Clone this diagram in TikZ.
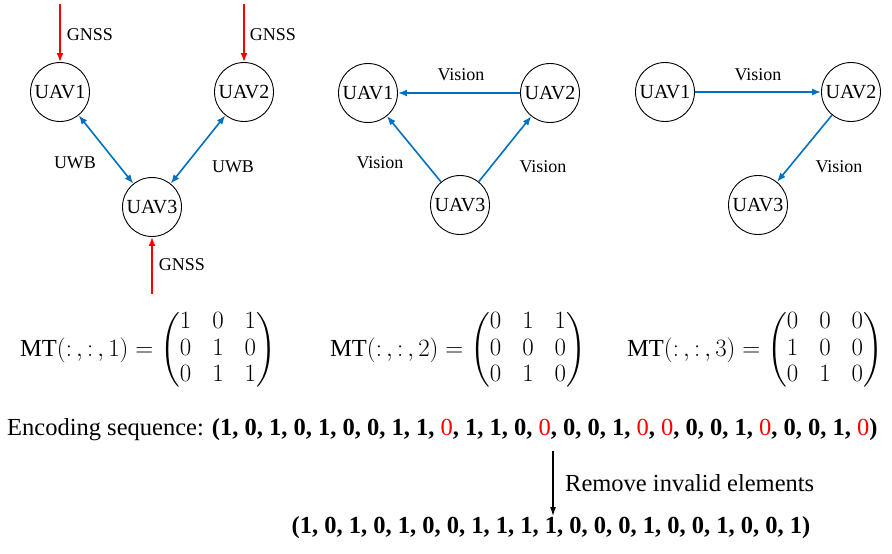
\documentclass[tikz,border=0pt]{standalone}
\usepackage{amsmath}
\usepackage{fontspec}
\setmainfont{Liberation Serif}
\usetikzlibrary{arrows.meta}
\definecolor{uavblue}{RGB}{0,112,192}
\newcommand{\rz}{{\mdseries\color{red}0}}
\begin{document}
\begin{tikzpicture}[x=1pt,y=-1pt,
  uav/.style={circle,draw,line width=0.9pt,minimum size=59pt,inner sep=0pt,font=\fontsize{20}{24}\selectfont},
  lbl/.style={font=\fontsize{18}{22}\selectfont,inner sep=0pt},
  gnss/.style={draw=red,line width=1.6pt,-{Latex[length=9pt,width=7pt]}},
  link/.style={draw=uavblue,line width=1.6pt,-{Latex[length=9pt,width=7pt]}},
  dlink/.style={draw=uavblue,line width=1.6pt,{Latex[length=9pt,width=7pt]}-{Latex[length=9pt,width=7pt]}},
  eqn/.style={anchor=west,inner sep=0pt,font=\fontsize{24.5}{26.5}\selectfont},
  seq/.style={inner sep=0pt,font=\fontsize{24.5}{30}\selectfont},
  down/.style={draw=black,line width=1.2pt,-{Latex[length=9pt,width=6pt]}}
]
\useasboundingbox[fill=white] (0,0) rectangle (892,554);

% Panel 1
\node[uav] (a1) at (60,92) {UAV1};
\node[uav] (a2) at (244,92) {UAV2};
\node[uav] (a3) at (152,207) {UAV3};
\coordinate (g1) at (60,4);
\coordinate (g2) at (244,4);
\coordinate (g3) at (152,294);
\draw[gnss] (g1) -- (a1);
\draw[gnss] (g2) -- (a2);
\draw[gnss] (g3) -- (a3);
\node[lbl] (lg1) at (90,35) {GNSS};
\node[lbl] (lg2) at (273,35) {GNSS};
\node[lbl] (lg3) at (182,265) {GNSS};
\draw[dlink] (a1) -- (a3);
\draw[dlink] (a2) -- (a3);
\node[lbl] (lu1) at (75,163) {UWB};
\node[lbl] (lu2) at (233,167) {UWB};

% Panel 2
\node[uav] (b1) at (368,93) {UAV1};
\node[uav] (b2) at (550,93) {UAV2};
\node[uav] (b3) at (460,205) {UAV3};
\draw[link] (b2) -- (b1);
\draw[link] (b3) -- (b1);
\draw[link] (b3) -- (b2);
\node[lbl] (lv1) at (461,75) {Vision};
\node[lbl] (lv2) at (380,163) {Vision};
\node[lbl] (lv3) at (543,167) {Vision};

% Panel 3
\node[uav] (c1) at (665,92) {UAV1};
\node[uav] (c2) at (851,92) {UAV2};
\node[uav] (c3) at (758,205) {UAV3};
\draw[link] (c1) -- (c2);
\draw[link] (c2) -- (c3);
\node[lbl] (lw1) at (758,75) {Vision};
\node[lbl] (lw2) at (839,167) {Vision};

% Matrices
\setlength{\arraycolsep}{10.5pt}
\node[eqn] (m1) at (20,350) {$\mathrm{MT}(\mathord{:}\,,\mathord{:}\,,1)=\begin{pmatrix}1&0&1\\0&1&0\\0&1&1\end{pmatrix}$};
\node[eqn] (m2) at (330,350) {$\mathrm{MT}(\mathord{:}\,,\mathord{:}\,,2)=\begin{pmatrix}0&1&1\\0&0&0\\0&1&0\end{pmatrix}$};
\node[eqn] (m3) at (627,350) {$\mathrm{MT}(\mathord{:}\,,\mathord{:}\,,3)=\begin{pmatrix}0&0&0\\1&0&0\\0&1&0\end{pmatrix}$};

% Sequences
\node[seq,anchor=west] (enc) at (7,430) {Encoding sequence: \textbf{(1, 0, 1, 0, 1, 0, 0, 1, 1, \rz, 1, 1, 0, \rz, 0, 0, 1, \rz, \rz, 0, 0, 1, \rz, 0, 0, 1, \rz)}};
\coordinate (ar0) at (553,451);
\coordinate (ar1) at (553,516);
\draw[down] (ar0) -- (ar1);
\node[seq,anchor=west] (rm) at (565,483) {Remove invalid elements};
\node[seq] (fin) at (551,528) {\textbf{(1, 0, 1, 0, 1, 0, 0, 1, 1, 1, 1, 0, 0, 0, 1, 0, 0, 1, 0, 0, 1)}};
\end{tikzpicture}
\end{document}
